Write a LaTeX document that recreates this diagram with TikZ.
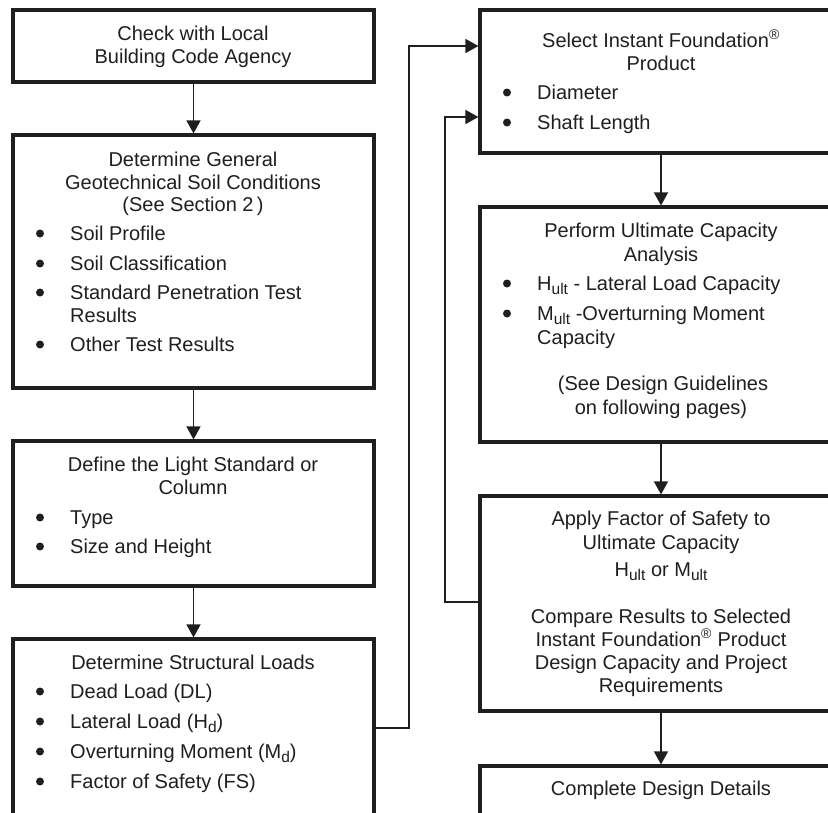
\documentclass[tikz,border=0pt]{standalone}
\usepackage{fontspec}
\setmainfont{Liberation Sans}
\usetikzlibrary{arrows.meta}
\newcommand{\sbt}[1]{\raisebox{-0.24em}{\fontsize{15.5}{15.5}\selectfont #1}}
\newcommand{\reg}{\textsuperscript{\textregistered}}
\tikzset{
  box/.style={draw=black!88, line width=3.2pt, rectangle, inner sep=0pt},
  txt/.style={anchor=base, inner sep=0pt, font=\fontsize{20}{23}\selectfont, text=black!88},
  itm/.style={txt, anchor=base west},
  arr/.style={draw=black!88, line width=1.6pt, -{Triangle[width=14pt,length=13pt]}},
  bul/.style={fill=black!88}
}
\begin{document}
\begin{tikzpicture}[x=1pt,y=-1pt]
\useasboundingbox (0,0) rectangle (828,812);
\clip (0,0) rectangle (828,812);
\fill[white] (0,0) rectangle (828,812);
% boxes
\node[box, minimum width=361pt, minimum height=72pt] (L1) at (193.5,46) {};
\node[box, minimum width=361pt, minimum height=253pt] (L2) at (193.5,261.5) {};
\node[box, minimum width=361pt, minimum height=145pt] (L3) at (193.5,513.5) {};
\node[box, minimum width=361pt, minimum height=200pt] (L4) at (193.5,739) {};
\node[box, minimum width=362pt, minimum height=143pt] (R1) at (661,81.5) {};
\node[box, minimum width=362pt, minimum height=235pt] (R2) at (661,324.5) {};
\node[box, minimum width=362pt, minimum height=215pt] (R3) at (661,603.5) {};
\node[box, minimum width=362pt, minimum height=80pt] (R4) at (661,806) {};
% L1
\node[txt] (t1a) at (193,40) {Check with Local};
\node[txt] (t1b) at (193,63) {Building Code Agency};
% L2
\node[txt] (t2a) at (193,166) {Determine General};
\node[txt] (t2b) at (193,189) {Geotechnical Soil Conditions};
\node[txt] (t2c) at (193,211) {(See Section 2\,)};
\node[itm] (t2d) at (70,240) {Soil Profile};
\node[itm] (t2e) at (70,270) {Soil Classification};
\node[itm] (t2f) at (70,299) {Standard Penetration Test};
\node[itm] (t2g) at (70,322) {Results};
\node[itm] (t2h) at (70,351) {Other Test Results};
\foreach \y in {240,270,299,351} \fill[bul] (40,\y-6.5) circle (4pt);
% L3
\node[txt] (t3a) at (193,471) {Define the Light Standard or};
\node[txt] (t3b) at (193,494) {Column};
\node[itm] (t3c) at (70,524) {Type};
\node[itm] (t3d) at (70,553) {Size and Height};
\foreach \y in {524,553} \fill[bul] (40,\y-6.5) circle (4pt);
% L4
\node[txt] (t4a) at (193,669) {Determine Structural Loads};
\node[itm] (t4b) at (70,698) {Dead Load (DL)};
\node[itm] (t4c) at (70,728) {Lateral Load (H\sbt{d})};
\node[itm] (t4d) at (70,758) {Overturning Moment (M\sbt{d})};
\node[itm] (t4e) at (70,788) {Factor of Safety (FS)};
\foreach \y in {698,728,758,788} \fill[bul] (40,\y-6.5) circle (4pt);
% R1
\node[txt] (r1a) at (661,47) {Select Instant Foundation\reg};
\node[txt] (r1b) at (661,70) {Product};
\node[itm] (r1c) at (537,99) {Diameter};
\node[itm] (r1d) at (537,129) {Shaft Length};
\foreach \y in {99,129} \fill[bul] (507,\y-6.5) circle (4pt);
% R2
\node[txt] (r2a) at (661,237) {Perform Ultimate Capacity};
\node[txt] (r2b) at (661,261) {Analysis};
\node[itm] (r2c) at (537,290) {H\sbt{ult} - Lateral Load Capacity};
\node[itm] (r2d) at (537,320) {M\sbt{ult} -Overturning Moment};
\node[itm] (r2e) at (537,344) {Capacity};
\node[txt] (r2f) at (663,390) {(See Design Guidelines};
\node[txt] (r2g) at (661,414) {on following pages)};
\foreach \y in {290,320} \fill[bul] (507,\y-6.5) circle (4pt);
% R3
\node[txt] (r3a) at (661,525) {Apply Factor of Safety to};
\node[txt] (r3b) at (661,549) {Ultimate Capacity};
\node[txt] (r3c) at (661,576) {H\sbt{ult} or M\sbt{ult}};
\node[txt] (r3d) at (661,623) {Compare Results to Selected};
\node[txt] (r3e) at (661,646) {Instant Foundation\reg{} Product};
\node[txt] (r3f) at (661,669) {Design Capacity and Project};
\node[txt] (r3g) at (661,692) {Requirements};
% R4
\node[txt] (r4a) at (661,795) {Complete Design Details};
% connectors
\draw[arr] (L1.south) -- (L2.north);
\draw[arr] (L2.south) -- (L3.north);
\draw[arr] (L3.south) -- (L4.north);
\draw[arr] (R1.south) -- (R2.north);
\draw[arr] (R2.south) -- (R3.north);
\draw[arr] (R3.south) -- (R4.north);
\coordinate (fa) at (409,728);
\coordinate (fb) at (409,46);
\draw[arr] (L4.east |- fa) -- (fa) -- (fb) -- (R1.west |- fb);
\coordinate (ga) at (445,602);
\coordinate (gb) at (445,117);
\draw[arr] (R3.west |- ga) -- (ga) -- (gb) -- (R1.west |- gb);
\end{tikzpicture}
\end{document}
